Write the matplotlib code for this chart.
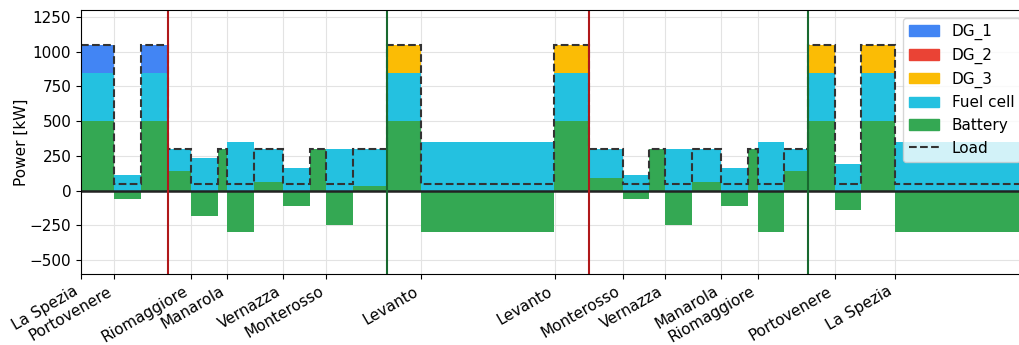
import numpy as np
import matplotlib.pyplot as plt
from matplotlib.patches import Patch
from matplotlib.lines import Line2D

plt.rcParams['font.size'] = 11

# time edges of each operating interval [min]
edges = [0, 25, 45, 65.25, 82.5, 102.5, 109.7, 129.7, 151.7, 171.7, 184, 204,
         229.5, 254.8, 355, 380.8, 406, 426, 438, 458, 480.2, 500.2, 507.2,
         527.2, 545, 565, 585, 610, 710]

# power per interval [kW]
battery = [500, -60, 500, 140, -185, 300, -300, 65, -110, 300, -250, 35,
           500, -300, 500, 90, -60, 300, -250, 65, -110, 300, -300, 140,
           500, -140, 500, -300]
fuel_cell = [350, 110, 350, 160, 235, 0, 350, 235, 160, 0, 300, 265,
             350, 350, 350, 210, 110, 0, 300, 235, 160, 0, 350, 160,
             350, 190, 350, 350]
dg_1 = [200, 0, 200, 0, 0, 0, 0, 0, 0, 0, 0, 0,
        0, 0, 0, 0, 0, 0, 0, 0, 0, 0, 0, 0,
        0, 0, 0, 0]
dg_2 = [0] * 28
dg_3 = [0, 0, 0, 0, 0, 0, 0, 0, 0, 0, 0, 0,
        200, 0, 200, 0, 0, 0, 0, 0, 0, 0, 0, 0,
        200, 0, 200, 0]
load = [1050, 50, 1050, 300, 50, 300, 50, 300, 50, 300, 50, 300,
        1050, 50, 1050, 300, 50, 300, 50, 300, 50, 300, 50, 300,
        1050, 50, 1050, 50]

port_times = [0, 25, 82.5, 109.7, 151.7, 184, 254.8, 355.7, 406, 438,
              480.2, 507.2, 565, 610]
port_names = ['La Spezia', 'Portovenere', 'Riomaggiore', 'Manarola',
              'Vernazza', 'Monterosso', 'Levanto', 'Levanto', 'Monterosso',
              'Vernazza', 'Manarola', 'Riomaggiore', 'Portovenere', 'La Spezia']

zone_out = [65.25, 380.8]   # red lines
zone_in = [229.5, 545]      # green lines

colors = {'DG_1': '#4285F4', 'DG_2': '#EA4335', 'DG_3': '#FBBC05',
          'Fuel cell': '#24C1E0', 'Battery': '#34A853'}

fig = plt.figure(figsize=(10.2, 3.45), dpi=100)
ax = fig.add_axes([81/1020, 71/345, (1028-81)/1020, 264/345])
ax.set_axisbelow(True)
ax.grid(True, color='#e3e3e3', lw=0.8)

bat = np.array(battery, float)
pos = np.clip(bat, 0, None)
neg = np.clip(bat, None, 0)

base = np.zeros(len(bat))
ax.stairs(neg, edges, baseline=base, fill=True, color=colors['Battery'], lw=0)
for name, vals in [('Battery', pos), ('Fuel cell', fuel_cell), ('DG_1', dg_1),
                   ('DG_2', dg_2), ('DG_3', dg_3)]:
    top = base + np.array(vals, float)
    if np.any(top != base):
        ax.stairs(top, edges, baseline=base.copy(), fill=True, color=colors[name], lw=0)
    base = top

ax.stairs(load, edges, baseline=None, color='#333333', ls='--', lw=1.5)
ax.axhline(0, color='#222222', lw=1.8)
for t in zone_out:
    ax.axvline(t, color='#B0181A', lw=1.5)
for t in zone_in:
    ax.axvline(t, color='#18692F', lw=1.5)

ax.set_xlim(0, 710)
ax.set_ylim(-600, 1300)
ax.set_yticks([-500, -250, 0, 250, 500, 750, 1000, 1250])
ax.set_xticks(port_times)
ax.set_xticklabels(port_names, rotation=30, ha='right')
ax.set_ylabel('Power [kW]', labelpad=0.5)

handles = [Patch(color=colors[k]) for k in ['DG_1', 'DG_2', 'DG_3', 'Fuel cell', 'Battery']]
handles.append(Line2D([], [], color='#333333', ls='--', lw=1.5))
ax.legend(handles, ['DG_1', 'DG_2', 'DG_3', 'Fuel cell', 'Battery', 'Load'],
          loc='upper right')

fig.savefig('out.png', dpi=100)
